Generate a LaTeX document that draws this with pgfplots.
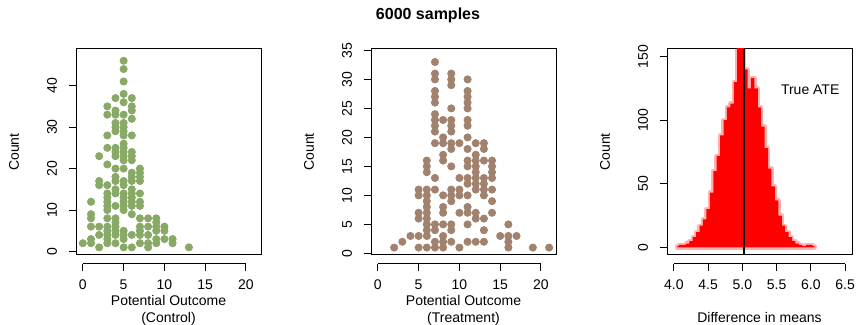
\documentclass[border=0pt]{standalone}
\usepackage{fontspec}
\setmainfont{Liberation Sans}
\usepackage{pgfplots}
\pgfplotsset{compat=1.18}
\definecolor{ctrl}{RGB}{136,170,102}
\definecolor{trt}{RGB}{160,130,110}
\pgfplotsset{rstyle/.style={
  scale only axis, width=92.5pt, height=103pt, anchor=south west,
  clip mode=individual,
  /pgf/number format/assume math mode=true,
  tick label style={font=\fontsize{7}{8.4}\selectfont},
  label style={font=\fontsize{7}{8.5}\selectfont},
  axis line style={line width=0.5pt},
  ytick pos=left, tick align=outside, major tick length=3.5pt,
  every tick/.style={black, line width=0.5pt},
  yticklabel style={rotate=90, inner sep=5.8pt},
  xtick pos=bottom,
  xtick style={draw=none},
  xticklabel style={yshift=-5.2pt},
  ylabel={Count},
  ylabel style={at={([xshift=-31pt]axis description cs:0,0.5)}, anchor=center},
  xlabel style={at={([yshift=-20pt]axis description cs:0.5,0)}, anchor=north, inner sep=0pt, align=center},
}}
\begin{document}
\begin{tikzpicture}
\useasboundingbox (0,0) rectangle (428pt,162.5pt);
\node[font=\fontsize{8}{9.6}\selectfont\bfseries] at (214pt,155pt) {6000 samples};

% Left panel: control
\begin{axis}[rstyle, at={(38pt,35pt)},
  xmin=-0.84, xmax=21.84, ymin=-0.84, ymax=48.84,
  xtick={0,5,10,15,20}, ytick={0,10,20,30,40},
  xlabel={Potential Outcome\\(Control)}]
\addplot[only marks, mark=*, mark size=1.8pt, color=ctrl, fill=ctrl] coordinates {
(0,2)
(1,2)(1,3)(1,6)(1,8)(1,9)(1,12)
(2,1)(2,4)(2,6)(2,16)(2,17)(2,23)
(3,2)(3,3)(3,4)(3,5)(3,6)(3,8)(3,10)(3,11)(3,12)(3,13)(3,14)(3,16)(3,21)(3,25)(3,28)(3,33)(3,35)
(4,2)(4,4)(4,5)(4,6)(4,7)(4,8)(4,11)(4,14)(4,15)(4,17)(4,18)(4,20)(4,23)(4,24)(4,25)(4,29)(4,30)(4,31)(4,33)(4,34)(4,37)
(5,1)(5,3)(5,4)(5,5)(5,10)(5,11)(5,12)(5,13)(5,14)(5,16)(5,17)(5,20)(5,22)(5,23)(5,24)(5,25)(5,26)(5,28)(5,29)(5,30)(5,31)(5,33)(5,36)(5,38)(5,41)(5,44)(5,46)
(6,1)(6,4)(6,9)(6,11)(6,12)(6,13)(6,14)(6,15)(6,17)(6,18)(6,19)(6,22)(6,23)(6,24)(6,28)(6,32)(6,34)(6,35)(6,37)
(7,2)(7,4)(7,5)(7,6)(7,8)(7,11)(7,12)(7,14)(7,17)(7,18)(7,19)(7,20)
(8,1)(8,2)(8,4)(8,6)(8,8)
(9,2)(9,3)(9,5)(9,6)(9,7)(9,8)
(10,3)(10,5)(10,6)
(11,2)(11,3)
(13,1)
};
\draw[line width=0.5pt] ([yshift=-4.5pt]axis cs:0,-0.84) -- ([yshift=-4.5pt]axis cs:20,-0.84);
\pgfplotsinvokeforeach{0,5,10,15,20}{
  \draw[line width=0.5pt] ([yshift=-4.5pt]axis cs:#1,-0.84) -- ([yshift=-8pt]axis cs:#1,-0.84);
}
\end{axis}

% Middle panel: treatment
\begin{axis}[rstyle, at={(185.5pt,35pt)},
  xmin=-0.84, xmax=21.84, ymin=-0.28, ymax=35.24,
  xtick={0,5,10,15,20}, ytick={0,5,10,15,20,25,30,35},
  xlabel={Potential Outcome\\(Treatment)}]
\addplot[only marks, mark=*, mark size=1.8pt, color=trt, fill=trt] coordinates {
(2,1)(3,2)(4,3)
(5,1)(5,3)(5,6)(5,7)(5,10)(5,11)
(6,1)(6,3)(6,4)(6,5)(6,6)(6,7)(6,8)(6,9)(6,10)(6,11)(6,14)(6,15)(6,16)
(7,1)(7,2)(7,4)(7,5)(7,11)(7,13)(7,19)(7,21)(7,22)(7,23)(7,24)(7,26)(7,27)(7,28)(7,30)(7,31)(7,33)
(8,1)(8,2)(8,3)(8,5)(8,7)(8,8)(8,10)(8,16)(8,17)(8,19)(8,20)(8,23)
(9,2)(9,4)(9,5)(9,9)(9,10)(9,11)(9,15)(9,18)(9,19)(9,21)(9,22)(9,23)(9,25)(9,29)(9,30)(9,31)
(10,1)(10,7)(10,10)(10,11)(10,13)(10,19)
(11,2)(11,5)(11,7)(11,8)(11,10)(11,12)(11,13)(11,15)(11,16)(11,18)(11,20)(11,22)(11,23)(11,25)(11,26)(11,27)(11,28)(11,30)
(12,2)(12,6)(12,7)(12,11)(12,12)(12,13)(12,14)(12,15)(12,16)(12,17)(12,19)
(13,2)(13,4)(13,6)(13,10)(13,11)(13,12)(13,13)(13,16)(13,18)(13,19)
(14,7)(14,9)(14,11)(14,13)(14,14)(14,15)(14,16)
(15,3)
(16,1)(16,2)(16,3)(16,5)
(17,3)
(19,1)
(21,1)
};
\draw[line width=0.5pt] ([yshift=-4.5pt]axis cs:0,-0.28) -- ([yshift=-4.5pt]axis cs:20,-0.28);
\pgfplotsinvokeforeach{0,5,10,15,20}{
  \draw[line width=0.5pt] ([yshift=-4.5pt]axis cs:#1,-0.28) -- ([yshift=-8pt]axis cs:#1,-0.28);
}
\end{axis}

% Right panel: difference in means
\begin{axis}[rstyle, at={(333.5pt,35pt)},
  xmin=3.9, xmax=6.6, ymin=-6, ymax=156,
  xtick={4,4.5,5,5.5,6,6.5}, ytick={0,50,100,150},
  xticklabel style={/pgf/number format/.cd, fixed, fixed zerofill, precision=1},
  xlabel={Difference in means},
  xlabel style={at={([yshift=-28.5pt]axis description cs:0.5,0)}}]
\addplot[const plot mark mid, fill=red, draw=red, draw opacity=0.3, line width=2.2pt, line join=round] coordinates {
(4.05,1)(4.10,2)(4.15,2)(4.20,3)(4.25,5)(4.30,8)(4.35,12)(4.40,17)(4.45,22)(4.50,30)
(4.55,43)(4.60,60)(4.65,72)(4.70,88)(4.75,100)(4.80,110)(4.85,113)(4.90,130)(4.95,165)(5.00,165)
(5.05,140)(5.10,125)(5.15,133)(5.20,125)(5.25,110)(5.30,95)(5.35,78)(5.40,62)(5.45,48)(5.50,37)
(5.55,25)(5.60,17)(5.65,12)(5.70,8)(5.75,5)(5.80,3)(5.85,2)(5.90,1)(5.95,2)(6.00,2)(6.05,1)
} \closedcycle;
\addplot[black, line width=1pt] coordinates {(5.027,-6) (5.027,156)};
\node[font=\fontsize{7}{8.4}\selectfont] at (axis cs:5.99,124) {True ATE};
\draw[line width=0.5pt] ([yshift=-4.5pt]axis cs:4,-6) -- ([yshift=-4.5pt]axis cs:6.5,-6);
\pgfplotsinvokeforeach{4,4.5,5,5.5,6,6.5}{
  \draw[line width=0.5pt] ([yshift=-4.5pt]axis cs:#1,-6) -- ([yshift=-8pt]axis cs:#1,-6);
}
\end{axis}
\end{tikzpicture}
\end{document}
